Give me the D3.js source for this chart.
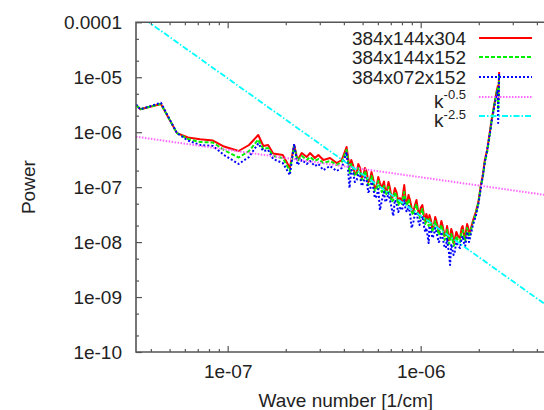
<!DOCTYPE html>
<html><head><meta charset="utf-8">
<script src="https://cdn.jsdelivr.net/npm/d3@7"></script>
<style>html,body{margin:0;padding:0;background:#fff;overflow:hidden}</style>
</head><body>
<script>
// ---- data ----
const waveNumbers = [3.35e-8, 3.53e-8, 4.51e-8, 5.46e-8, 6.23e-8, 7.19e-8, 8.39e-8, 9.57e-8, 1.14e-7, 1.29e-7,
 1.44e-7, 1.53e-7, 1.62e-7, 1.72e-7, 1.93e-7, 2.10e-7, 2.21e-7, 2.30e-7, 2.42e-7, 2.57e-7,
 2.67e-7, 2.83e-7, 2.95e-7, 3.13e-7, 3.39e-7, 3.67e-7, 3.90e-7,
 4.13e-7, 4.28e-7, 4.37e-7, 4.46e-7, 4.56e-7, 4.66e-7, 4.75e-7, 4.85e-7, 4.95e-7, 5.04e-7,
 5.14e-7, 5.25e-7, 5.35e-7, 5.46e-7, 5.56e-7, 5.66e-7, 5.79e-7, 5.92e-7, 6.03e-7, 6.15e-7,
 6.30e-7, 6.45e-7, 6.57e-7, 6.69e-7, 6.81e-7, 6.93e-7, 7.07e-7, 7.21e-7, 7.35e-7, 7.49e-7,
 7.65e-7, 7.81e-7, 8.00e-7, 8.22e-7, 8.36e-7, 8.49e-7, 8.65e-7, 8.80e-7, 8.98e-7, 9.16e-7,
 9.34e-7, 9.51e-7, 9.68e-7, 9.86e-7, 1.00e-6, 1.02e-6, 1.04e-6, 1.055e-6, 1.07e-6, 1.10e-6,
 1.11e-6, 1.13e-6, 1.15e-6, 1.17e-6, 1.19e-6, 1.21e-6, 1.24e-6, 1.26e-6, 1.28e-6, 1.30e-6,
 1.33e-6, 1.35e-6, 1.37e-6, 1.38e-6, 1.40e-6, 1.42e-6, 1.44e-6, 1.46e-6, 1.48e-6, 1.50e-6,
 1.53e-6, 1.56e-6, 1.60e-6, 1.63e-6, 1.65e-6, 1.68e-6, 1.70e-6, 1.72e-6, 1.74e-6, 1.76e-6,
 1.78e-6, 1.80e-6,
 1.87e-6, 1.93e-6, 1.99e-6, 2.05e-6, 2.10e-6, 2.15e-6, 2.21e-6, 2.25e-6, 2.29e-6, 2.33e-6,
 2.38e-6, 2.43e-6, 2.47e-6, 2.51e-6, 2.52e-6, 2.55e-6];

const power384x144x304 = [3.12e-6, 2.61e-6, 3.26e-6, 9.62e-7, 8.00e-7, 7.42e-7, 7.05e-7, 5.49e-7, 4.55e-7, 5.85e-7,
 8.89e-7, 5.61e-7, 5.85e-7, 4.09e-7, 3.85e-7, 2.23e-7, 5.85e-7, 3.12e-7, 4.18e-7, 3.54e-7,
 4.18e-7, 3.39e-7, 3.85e-7, 3.12e-7, 3.39e-7, 2.75e-7, 3.12e-7,
 5.38e-7, 2.23e-7, 3.12e-7, 2.53e-7, 1.73e-7, 1.81e-7, 2.64e-7, 2.23e-7, 1.47e-7, 1.60e-7,
 2.23e-7, 1.89e-7, 1.24e-7, 1.35e-7, 1.89e-7, 1.47e-7, 9.61e-8, 1.05e-7, 1.53e-7, 1.19e-7,
 9.61e-8, 1.27e-7, 8.16e-8, 8.87e-8, 1.24e-7, 9.61e-8, 6.34e-8, 6.90e-8, 9.61e-8, 8.16e-8,
 5.59e-8, 6.34e-8, 5.59e-8, 1.09e-7, 5.83e-8, 5.14e-8, 7.19e-8, 5.83e-8, 4.17e-8, 3.53e-8,
 4.73e-8, 5.83e-8, 3.84e-8, 3.11e-8, 4.17e-8, 4.73e-8, 2.99e-8, 2.42e-8, 3.25e-8, 2.32e-8,
 3.11e-8, 2.52e-8, 1.73e-8, 2.05e-8, 2.86e-8, 2.32e-8, 1.59e-8, 1.81e-8, 2.42e-8, 1.96e-8,
 1.29e-8, 1.40e-8, 1.96e-8, 1.66e-8, 1.09e-8, 1.24e-8, 1.73e-8, 1.46e-8, 9.60e-9, 1.09e-8,
 1.53e-8, 1.29e-8, 1.19e-8, 1.81e-8, 1.96e-8, 1.29e-8, 1.14e-8, 1.66e-8, 2.13e-8, 1.88e-8,
 1.35e-8, 1.53e-8,
 2.52e-8, 3.53e-8, 5.36e-8, 1.09e-7, 1.66e-7, 3.12e-7, 4.74e-7, 7.21e-7, 1.10e-6, 1.67e-6,
 2.53e-6, 3.85e-6, 5.39e-6, 6.92e-6, 3.85e-6, 1.25e-5];

const power384x144x152 = [3.12e-6, 2.61e-6, 3.26e-6, 9.62e-7, 7.52e-7, 6.63e-7, 6.49e-7, 4.74e-7, 3.46e-7, 4.55e-7,
 7.36e-7, 4.95e-7, 5.16e-7, 3.69e-7, 3.39e-7, 1.97e-7, 5.61e-7, 2.99e-7, 3.69e-7, 3.12e-7,
 3.54e-7, 2.99e-7, 3.25e-7, 2.75e-7, 2.99e-7, 2.53e-7, 2.87e-7,
 4.74e-7, 1.81e-7, 2.64e-7, 2.23e-7, 1.60e-7, 1.66e-7, 2.23e-7, 1.89e-7, 1.35e-7, 1.47e-7,
 1.97e-7, 1.60e-7, 1.09e-7, 1.19e-7, 1.60e-7, 1.29e-7, 8.51e-8, 9.25e-8, 1.29e-7, 9.61e-8,
 8.16e-8, 1.05e-7, 7.19e-8, 7.82e-8, 1.01e-7, 7.82e-8, 5.36e-8, 5.83e-8, 8.16e-8, 6.90e-8,
 4.73e-8, 5.59e-8, 4.93e-8, 8.16e-8, 5.14e-8, 4.53e-8, 6.08e-8, 4.73e-8, 3.53e-8, 3.11e-8,
 4.17e-8, 4.93e-8, 3.38e-8, 2.74e-8, 3.38e-8, 4.00e-8, 2.63e-8, 2.13e-8, 2.63e-8, 1.96e-8,
 2.63e-8, 2.13e-8, 1.53e-8, 1.81e-8, 2.42e-8, 1.96e-8, 1.35e-8, 1.53e-8, 2.05e-8, 1.66e-8,
 1.09e-8, 1.19e-8, 1.66e-8, 1.29e-8, 9.22e-9, 1.00e-8, 1.40e-8, 1.19e-8, 8.49e-9, 9.22e-9,
 1.29e-8, 1.09e-8, 1.00e-8, 1.53e-8, 1.66e-8, 1.19e-8, 1.05e-8, 1.40e-8, 1.81e-8, 1.53e-8,
 1.24e-8, 1.40e-8,
 2.32e-8, 3.25e-8, 5.14e-8, 1.05e-7, 1.53e-7, 2.87e-7, 4.36e-7, 6.63e-7, 1.01e-6, 1.60e-6,
 2.53e-6, 3.85e-6, 5.17e-6, 6.37e-6, 2.53e-6, 1.10e-5];

const power384x072x152 = [3.22e-6, 2.61e-6, 3.44e-6, 9.62e-7, 7.05e-7, 5.85e-7, 5.61e-7, 3.85e-7, 2.64e-7, 3.54e-7,
 6.23e-7, 4.55e-7, 4.74e-7, 3.25e-7, 2.75e-7, 1.66e-7, 6.10e-7, 2.53e-7, 3.12e-7, 2.64e-7,
 2.99e-7, 2.42e-7, 2.64e-7, 2.05e-7, 2.42e-7, 1.97e-7, 2.23e-7,
 4.36e-7, 9.61e-8, 2.05e-7, 1.89e-7, 1.24e-7, 1.35e-7, 1.73e-7, 1.60e-7, 1.05e-7, 1.19e-7,
 1.53e-7, 1.29e-7, 8.16e-8, 8.87e-8, 1.24e-7, 1.05e-7, 6.34e-8, 6.90e-8, 9.25e-8, 3.84e-8,
 5.83e-8, 8.16e-8, 5.36e-8, 6.08e-8, 7.82e-8, 5.83e-8, 4.17e-8, 2.99e-8, 5.83e-8, 5.14e-8,
 3.53e-8, 4.17e-8, 3.84e-8, 5.83e-8, 3.84e-8, 3.53e-8, 4.53e-8, 3.38e-8, 1.81e-8, 2.32e-8,
 3.25e-8, 3.53e-8, 2.52e-8, 2.05e-8, 2.52e-8, 2.99e-8, 1.96e-8, 1.53e-8, 1.81e-8, 9.60e-9,
 1.96e-8, 1.66e-8, 1.19e-8, 1.35e-8, 1.81e-8, 1.46e-8, 1.00e-8, 1.09e-8, 1.53e-8, 1.19e-8,
 8.14e-9, 7.81e-9, 1.19e-8, 8.84e-9, 6.60e-9, 3.83e-9, 9.22e-9, 7.18e-9, 5.83e-9, 6.60e-9,
 1.00e-8, 8.49e-9, 7.81e-9, 1.19e-8, 1.29e-8, 9.22e-9, 8.49e-9, 1.09e-8, 1.53e-8, 1.29e-8,
 1.00e-8, 1.19e-8,
 2.13e-8, 2.99e-8, 4.93e-8, 9.61e-8, 1.66e-7, 2.87e-7, 4.74e-7, 6.91e-7, 1.01e-6, 1.53e-6,
 2.33e-6, 3.54e-6, 4.75e-6, 5.86e-6, 1.47e-6, 1.25e-5];

const seriesNames = ["384x144x304", "384x144x152", "384x072x152"];
// reference power laws: P = P0 * (k / k0)^exponent
const fitExponents = [-0.5, -2.5];
const fitLabels = ["-0.5", "-2.5"];
const fitAnchorK = [3.35e-8, 3.91e-8];
const fitAnchorP = [8.28e-7, 1.0e-4];

const xDomain = [3.35e-8, 5e-6];
const yDomain = [1e-10, 1e-4];
const xTickValues = [1e-7, 1e-6];
const xTickLabels = ["1e-07", "1e-06"];
const yTickValues = [1e-4, 1e-5, 1e-6, 1e-7, 1e-8, 1e-9, 1e-10];
const yTickLabels = ["0.0001", "1e-05", "1e-06", "1e-07", "1e-08", "1e-09", "1e-10"];
const xAxisTitle = "Wave number [1/cm]";
const yAxisTitle = "Power";

// ---- layout ----
const W = 544, H = 410;
const L = 136, T = 22.3, B = 352, R = 555.6;
const FONT = "'Liberation Sans', Arial, Helvetica, sans-serif";
const AX = "#555";

const svg = d3.select("body").append("svg").attr("width", W).attr("height", H)
  .style("font-family", FONT);

const x = d3.scaleLog().domain(xDomain).range([L, R]);
const y = d3.scaleLog().domain(yDomain).range([B, T]);

// minor ticks
const xMinor = [];
for (let e = -8; e <= -6; e++) for (let m = 2; m <= 9; m++) {
  const v = m * Math.pow(10, e);
  if (v >= xDomain[0] && v <= xDomain[1]) xMinor.push(v);
}
const yMinor = [];
for (let e = -10; e <= -5; e++) for (const m of [2, 5]) yMinor.push(m * Math.pow(10, e));

function styleAxis(g) {
  g.select(".domain").remove();
  g.selectAll(".tick line").attr("stroke", AX).attr("stroke-width", 1.2);
  g.selectAll("text").attr("fill", "#222").style("font-size", "19px").style("font-family", FONT);
}

svg.append("g").attr("transform", `translate(0,${B})`)
  .call(d3.axisBottom(x).tickValues(xMinor).tickSize(-3).tickFormat(""))
  .call(styleAxis);
svg.append("g").attr("transform", `translate(0,${B})`)
  .call(d3.axisBottom(x).tickValues(xTickValues).tickSize(-6).tickPadding(13)
    .tickFormat((d, i) => xTickLabels[i]))
  .call(styleAxis);
svg.append("g").attr("transform", `translate(0,${T})`)
  .call(d3.axisTop(x).tickValues(xMinor).tickSize(-3).tickFormat(""))
  .call(styleAxis);
svg.append("g").attr("transform", `translate(0,${T})`)
  .call(d3.axisTop(x).tickValues(xTickValues).tickSize(-6).tickFormat(""))
  .call(styleAxis);
svg.append("g").attr("transform", `translate(${L},0)`)
  .call(d3.axisLeft(y).tickValues(yMinor).tickSize(-3).tickFormat(""))
  .call(styleAxis);
svg.append("g").attr("transform", `translate(${L},0)`)
  .call(d3.axisLeft(y).tickValues(yTickValues).tickSize(-6).tickPadding(14)
    .tickFormat((d, i) => yTickLabels[i]))
  .call(styleAxis);

svg.append("clipPath").attr("id", "plotclip").append("rect")
  .attr("x", L).attr("y", T).attr("width", R - L).attr("height", B - T);
const plot = svg.append("g").attr("clip-path", "url(#plotclip)");

const seriesData = [power384x144x304, power384x144x152, power384x072x152];
const seriesStyle = [
  { color: "#ff0000", dash: null, w: 2 },
  { color: "#00ee00", dash: "4,2", w: 2 },
  { color: "#0000ff", dash: "2,2", w: 2 }
];
const fitStyle = [
  { color: "#ff66ff", dash: "1.5,1.5", w: 2 },
  { color: "#00ffff", dash: "6,2,1.5,2", w: 1.8 }
];

const line = d3.line().x(d => x(d[0])).y(d => y(d[1]));
seriesData.forEach((vals, i) => {
  const n = Math.min(waveNumbers.length, vals.length);
  const pts = waveNumbers.slice(0, n).map((k, j) => [k, vals[j]]);
  plot.append("path").attr("d", line(pts)).attr("fill", "none")
    .attr("stroke", seriesStyle[i].color).attr("stroke-width", seriesStyle[i].w)
    .attr("stroke-dasharray", seriesStyle[i].dash).attr("stroke-linejoin", "round");
});
fitExponents.forEach((ex, i) => {
  const pts = xDomain.map(k => [k, fitAnchorP[i] * Math.pow(k / fitAnchorK[i], ex)]);
  plot.append("path").attr("d", line(pts)).attr("fill", "none")
    .attr("stroke", fitStyle[i].color).attr("stroke-width", fitStyle[i].w)
    .attr("stroke-dasharray", fitStyle[i].dash);
});

svg.append("path")
  .attr("d", `M${R},${T}H${L}V${B}H${R}`)
  .attr("fill", "none").attr("stroke", AX).attr("stroke-width", 1.6);

// legend
const LX = 466, LS = 479, LE = 532, LY0 = 37.7, LDY = 19.6;
const legendItems = seriesNames.map((n, i) => ({ text: n, sup: null, st: seriesStyle[i] }))
  .concat(fitLabels.map((s, i) => ({ text: "k", sup: s, st: fitStyle[i] })));
legendItems.forEach((it, i) => {
  const cy = LY0 + LDY * i;
  const t = svg.append("text").attr("text-anchor", "end").attr("x", LX)
    .attr("fill", "#222").style("font-size", "19px");
  if (it.sup === null) {
    t.attr("y", cy + 7).text(it.text);
  } else {
    t.attr("y", cy + 11.3);
    t.append("tspan").text(it.text);
    t.append("tspan").attr("dy", -8.4).style("font-size", "13px").text(it.sup);
  }
  svg.append("line").attr("x1", LS).attr("x2", LE).attr("y1", Math.round(cy)).attr("y2", Math.round(cy))
    .attr("stroke", it.st.color).attr("stroke-width", it.st.w)
    .attr("stroke-dasharray", it.st.dash);
});

svg.append("text").attr("x", (L + R) / 2).attr("y", 407).attr("text-anchor", "middle")
  .attr("fill", "#222").style("font-size", "19px").text(xAxisTitle);
svg.append("text").attr("transform", `translate(35,${(T + B) / 2}) rotate(-90)`)
  .attr("text-anchor", "middle").attr("fill", "#222").style("font-size", "19px").text(yAxisTitle);
</script>
</body></html>
